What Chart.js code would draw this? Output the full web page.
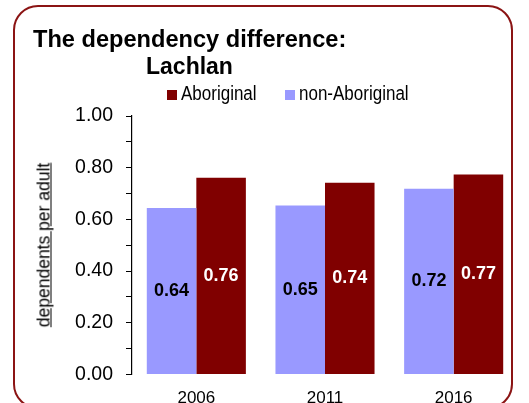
<!DOCTYPE html>
<html>
<head>
<meta charset="utf-8">
<script src="https://cdn.jsdelivr.net/npm/chart.js@4/dist/chart.umd.min.js"></script>
<style>
  html, body { margin: 0; padding: 0; background: #fff; }
  #wrap { position: relative; width: 529px; height: 403px; overflow: hidden; font-family: "Liberation Sans", Arial, sans-serif; }
  #frame {
    position: absolute; left: 13px; top: 5px; width: 500px; height: 404px;
    box-sizing: border-box; border: 2.5px solid #8b1414; border-radius: 25px;
  }
  #chart { position: absolute; left: 0; top: 0; }
  .title { position: absolute; font-weight: bold; font-size: 23px; color: #000; white-space: nowrap; line-height: 1; }
  #legend { position: absolute; left: 167px; top: 82px; font-size: 20px; white-space: nowrap; }
  #legend span.item { position: absolute; top: 0; transform: scaleX(0.85); transform-origin: 0 0; }
  #legend i { position: absolute; top: 8px; width: 10px; height: 10px; }
  #ytitle {
    position: absolute; left: 44px; top: 245px; transform: translate(-50%, -50%) rotate(-90deg);
    font-size: 17.5px; text-decoration: underline; white-space: nowrap;
  }
</style>
</head>
<body>
<div id="wrap">
  <div id="frame"></div>
  <canvas id="chart" width="529" height="403"></canvas>
  <div class="title" style="left:33px;top:28px;font-size:23.6px">The dependency difference:</div>
  <div class="title" style="left:146px;top:55px">Lachlan</div>
  <div id="legend"></div>
  <div id="ytitle">dependents per adult</div>
</div>
<script>
// ── Data ──
const years          = ["2006", "2011", "2016"];
const nonAboriginal  = [0.644, 0.654, 0.719];
const aboriginal     = [0.761, 0.742, 0.774];
const yTicks         = ["0.00", "0.20", "0.40", "0.60", "0.80", "1.00"];

const C_NON = "#9999ff";
const C_ABO = "#800000";

// legend (Aboriginal listed first)
const legendItems = [
  { label: "Aboriginal",     color: C_ABO, x: 0 },
  { label: "non-Aboriginal", color: C_NON, x: 118 },
];
document.getElementById("legend").innerHTML = legendItems.map(it => `
  <i style="left:${it.x}px;background:${it.color}"></i>
  <span class="item" style="left:${it.x + 14}px">${it.label}</span>
`).join("");

// value labels centred in each bar
const barLabels = {
  id: "barLabels",
  afterDatasetsDraw(chart) {
    const ctx = chart.ctx;
    ctx.save();
    ctx.font = "bold 18px 'Liberation Sans', Arial, sans-serif";
    ctx.textAlign = "center";
    ctx.textBaseline = "middle";
    chart.data.datasets.forEach((ds, i) => {
      chart.getDatasetMeta(i).data.forEach((bar, j) => {
        ctx.fillStyle = ds.labelColor;
        ctx.fillText(ds.data[j].toFixed(2), bar.x, (bar.y + bar.base) / 2);
      });
    });
    ctx.restore();
  }
};

new Chart(document.getElementById("chart"), {
  type: "bar",
  data: {
    labels: years,
    datasets: [
      { label: "non-Aboriginal", data: nonAboriginal, backgroundColor: C_NON, labelColor: "#000" },
      { label: "Aboriginal",     data: aboriginal,    backgroundColor: C_ABO, labelColor: "#fff" },
    ]
  },
  options: {
    responsive: false,
    animation: false,
    events: [],
    layout: { padding: { left: 0, top: 116, right: 11, bottom: 0 } },
    datasets: { bar: { categoryPercentage: 0.77, barPercentage: 1 } },
    plugins: { legend: { display: false }, tooltip: { enabled: false } },
    scales: {
      x: {
        grid: { display: false },
        border: { display: false },
        ticks: { color: "#000", font: { size: 17, family: "'Liberation Sans', Arial" }, padding: 6 },
        afterFit: s => { s.height = 28.5; }
      },
      y: {
        min: 0, max: 1,
        ticks: {
          stepSize: 0.1,
          autoSkip: false,
          color: "#000",
          padding: 13,
          font: { size: 19.5, family: "'Liberation Sans', Arial" },
          callback: v => {
            const k = Math.round(v * 10);
            return k % 2 === 0 ? yTicks[k / 2] : "";
          }
        },
        grid: { drawOnChartArea: false, tickLength: 6, color: "#000", tickWidth: 1 },
        border: { display: true, color: "#000", width: 1.2 },
        afterFit: s => { s.width = 132; }
      }
    }
  },
  plugins: [barLabels]
});
</script>
</body>
</html>
